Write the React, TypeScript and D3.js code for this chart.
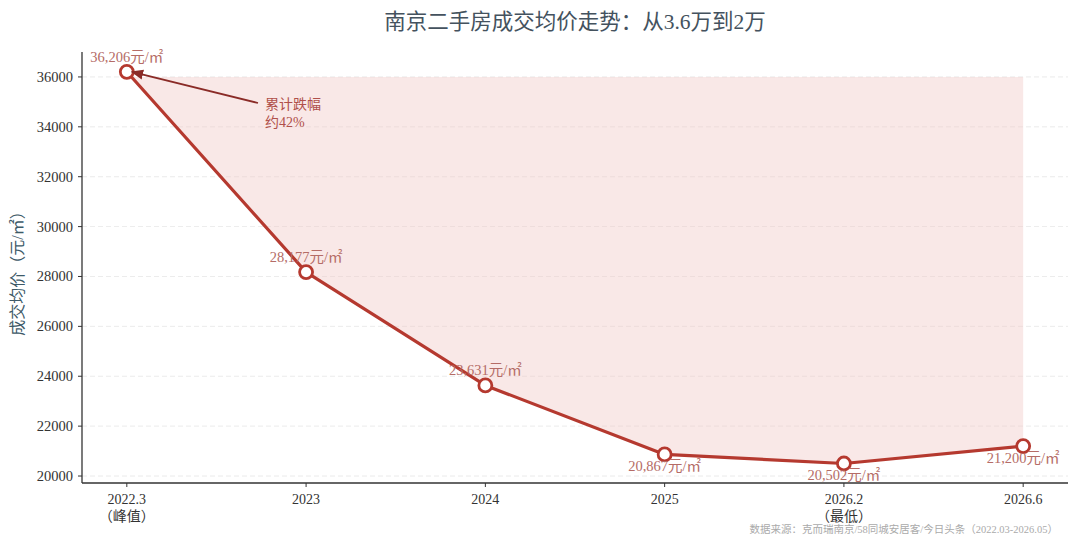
import React from "react";
import * as d3 from "d3";

const categories = ["2022.3", "2023", "2024", "2025", "2026.2", "2026.6"];
const subLabels = ["（峰值）", "", "", "", "（最低）", ""];
const prices = [36206, 28177, 23631, 20867, 20502, 21200];
const priceLabels = ["36,206元/㎡", "28,177元/㎡", "23,631元/㎡", "20,867元/㎡", "20,502元/㎡", "21,200元/㎡"];
const labelAbove = [true, true, true, false, false, false];
const yTicks = [20000, 22000, 24000, 26000, 28000, 30000, 32000, 34000, 36000];
const fillTop = 36000;
const title = "南京二手房成交均价走势：从3.6万到2万";
const yTitle = "成交均价（元/㎡）";
const annotation = ["累计跌幅", "约42%"];
const source = "数据来源：克而瑞南京/58同城安居客/今日头条（2022.03-2026.05）";

const W = 1080;
const H = 547;
const FONT = "'Liberation Serif', 'DejaVu Serif', 'Noto Sans CJK SC', serif";

export default function App() {
  const left = 82, right = 1068, top = 52, bottom = 483;
  const x = d3.scaleLinear().domain([-0.25, categories.length - 1 + 0.25]).range([left, right]);
  const y = d3.scaleLinear().domain([19720, 37000]).range([bottom, top]);
  const pts: [number, number][] = prices.map((p, i) => [x(i), y(p)]);
  const line = d3.line<[number, number]>().x(d => d[0]).y(d => d[1]);
  const area = d3
    .area<[number, number]>()
    .x(d => d[0])
    .y0(() => y(fillTop))
    .y1(d => d[1]);
  const red = "#b5392f";
  const labelColor = "#b56c66";

  const ax = x(0) + 5, ay = y(prices[0]);
  const tx = 258, ty = 103;

  return (
    <svg width={W} height={H} style={{ position: "absolute", left: 0, top: 0, background: "#fff" }} fontFamily={FONT}>
      <defs>
        <marker id="arr" viewBox="0 0 10 10" refX="9" refY="5" markerWidth="7" markerHeight="7" orient="auto-start-reverse">
          <path d="M0,1 L10,5 L0,9 z" fill="#8a2b27" />
        </marker>
      </defs>
      <text x={(left + right) / 2} y={29} textAnchor="middle" fontSize={21.5} fill="#44525e">{title}</text>

      {yTicks.map(t => (
        <line key={"g" + t} x1={left} x2={right} y1={y(t)} y2={y(t)} stroke="#dcdcdc" strokeWidth={0.8} strokeDasharray="5,3" opacity={0.7} />
      ))}

      <path d={area(pts) || ""} fill="#f0c8c6" opacity={0.42} />
      <path d={line(pts) || ""} fill="none" stroke={red} strokeWidth={3.2} strokeLinejoin="round" />
      {pts.map((p, i) => (
        <circle key={"c" + i} cx={p[0]} cy={p[1]} r={6.5} fill="#fff" stroke={red} strokeWidth={2.8} />
      ))}

      {pts.map((p, i) => (
        <text key={"l" + i} x={p[0]} y={labelAbove[i] ? p[1] - 10 : p[1] + 17} textAnchor="middle" fontSize={14.5} fill={labelColor}>{priceLabels[i]}</text>
      ))}

      <line x1={tx} y1={ty} x2={ax} y2={ay} stroke="#8a2b27" strokeWidth={1.8} markerEnd="url(#arr)" />
      <text x={265} y={109} fontSize={14} fill="#b0504a">
        <tspan x={265} dy={0}>{annotation[0]}</tspan>
        <tspan x={265} dy={18}>{annotation[1]}</tspan>
      </text>

      <line x1={left} x2={left} y1={top} y2={bottom} stroke="#333" strokeWidth={1.3} />
      <line x1={left} x2={right} y1={bottom} y2={bottom} stroke="#333" strokeWidth={1.3} />
      {yTicks.map(t => (
        <g key={"yt" + t}>
          <line x1={left - 4} x2={left} y1={y(t)} y2={y(t)} stroke="#333" strokeWidth={1} />
          <text x={left - 9} y={y(t) + 5} textAnchor="end" fontSize={14.5} fill="#333">{t}</text>
        </g>
      ))}
      {categories.map((c, i) => (
        <g key={"xt" + i}>
          <line x1={x(i)} x2={x(i)} y1={bottom} y2={bottom + 4} stroke="#333" strokeWidth={1} />
          <text x={x(i)} y={bottom + 21} textAnchor="middle" fontSize={14} fill="#333">{c}</text>
          {subLabels[i] && (
            <text x={x(i)} y={bottom + 38} textAnchor="middle" fontSize={14} fill="#333">{subLabels[i]}</text>
          )}
        </g>
      ))}

      <text transform={`translate(23,${(top + bottom) / 2 + 2}) rotate(-90)`} textAnchor="middle" fontSize={16} fill="#3d5a68">{yTitle}</text>

      <text x={1058} y={533} textAnchor="end" fontSize={10.5} fill="#aaaaaa">{source}</text>
    </svg>
  );
}
